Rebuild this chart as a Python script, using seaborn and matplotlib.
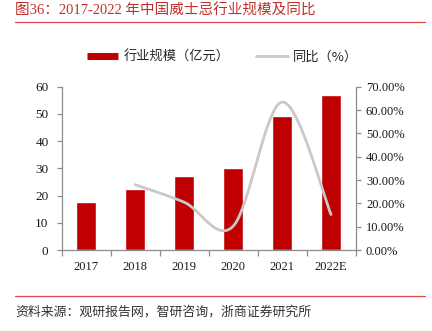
import numpy as np
import pandas as pd
import matplotlib
matplotlib.use("Agg")
import matplotlib.pyplot as plt
from matplotlib.lines import Line2D
import seaborn as sns

years = ["2017", "2018", "2019", "2020", "2021", "2022E"]
scale = [17.6, 22.6, 27.3, 30.1, 49.4, 57.0]
yoy_years = ["2018", "2019", "2020", "2021", "2022E"]
yoy = [28.0, 20.5, 10.2, 63.4, 15.2]
left_ticks = [0, 10, 20, 30, 40, 50, 60]
right_ticks = [0, 10, 20, 30, 40, 50, 60, 70]

sns.set_theme(style="white")
FONTS = ["Liberation Serif", "Noto Sans CJK SC", "DejaVu Sans"]
plt.rcParams["font.family"] = FONTS

BAR = "#C00000"
GRAY_LINE = "#C9C9C9"
SPINE = "#8C8C8C"
TITLE_RED = "#C0302B"
RULE_RED = "#DC4A4A"

fig = plt.figure(figsize=(4.32, 3.31), dpi=100)
ax = fig.add_axes([0.143, 0.2447, 0.680, 0.4933])

df = pd.DataFrame({"year": years, "scale": scale})
sns.barplot(data=df, x="year", y="scale", color=BAR, saturation=1, width=0.4, ax=ax, zorder=2)
ax.set_xlim(-0.5, 5.5)
ax.set_ylim(0, 60)
ax.set_yticks(left_ticks)
ax.set_xlabel("")
ax.set_ylabel("")

ax2 = ax.twinx()
# smoothed line (Catmull-Rom / Bezier like Excel)
xi = np.array([years.index(y) for y in yoy_years], dtype=float)
yi = np.array(yoy, dtype=float)
P = np.column_stack([xi, yi])
Pext = np.vstack([P[0], P, P[-1]])
curve = []
t = np.linspace(0, 1, 60)[:, None]
for i in range(1, len(Pext) - 2):
    p0, p1, p2, p3 = Pext[i - 1], Pext[i], Pext[i + 1], Pext[i + 2]
    c1 = p1 + (p2 - p0) / 6
    c2 = p2 - (p3 - p1) / 6
    seg = (1 - t) ** 3 * p1 + 3 * (1 - t) ** 2 * t * c1 + 3 * (1 - t) * t ** 2 * c2 + t ** 3 * p2
    curve.append(seg)
curve = np.vstack(curve)
sns.lineplot(x=curve[:, 0], y=curve[:, 1], sort=False, color=GRAY_LINE, lw=2.0, ax=ax2, zorder=3)
ax2.set_ylim(0, 70)
ax2.set_yticks(right_ticks)
ax2.set_yticklabels([f"{v:.2f}%" for v in right_ticks])
ax2.set_xlim(-0.5, 5.5)

for a in (ax, ax2):
    for s in a.spines.values():
        s.set_color(SPINE)
        s.set_linewidth(0.9)
    a.spines["top"].set_visible(False)
ax.spines["right"].set_visible(False)
ax2.spines["left"].set_visible(False)
ax2.spines["bottom"].set_visible(False)

ax.tick_params(axis="y", direction="out", length=3.5, width=0.9, color=SPINE, labelsize=9.5, pad=6, left=True)
ax2.tick_params(axis="y", direction="out", length=3.5, width=0.9, color=SPINE, labelsize=9, pad=4, right=True)
ax.set_xticks(range(len(years)))
ax.set_xticklabels(years)
ax.set_xticks(np.arange(-0.5, 6, 1), minor=True)
ax.tick_params(axis="x", which="major", length=0, labelsize=9, pad=8)
ax.tick_params(axis="x", which="minor", direction="out", length=4, width=0.9, color=SPINE, bottom=True)
for lab in ax.get_xticklabels() + ax.get_yticklabels() + ax2.get_yticklabels():
    lab.set_color("#1a1a1a")
ax.grid(False)
ax2.grid(False)

# legend
handles = [Line2D([], [], color=BAR, lw=5, solid_capstyle="butt"),
           Line2D([], [], color=GRAY_LINE, lw=2)]
fig.legend(handles, ["行业规模（亿元）", "同比（%）"], loc="center", bbox_to_anchor=(0.515, 0.828),
           ncol=2, frameon=False, handlelength=2.4, handletextpad=0.4, columnspacing=2.0,
           prop={"family": ["Noto Sans CJK SC"], "size": 9.5})

# title and rules
fig.text(0.035, 0.968, "图36：2017-2022 年中国威士忌行业规模及同比", color=TITLE_RED,
         fontsize=10.5, ha="left", va="center", family=FONTS)
fig.add_artist(Line2D([0.035, 0.984], [0.933, 0.933], color=RULE_RED, lw=0.9))
fig.add_artist(Line2D([0.035, 0.984], [0.105, 0.105], color=RULE_RED, lw=0.9))
fig.text(0.035, 0.058, "资料来源：观研报告网，智研咨询，浙商证券研究所", color="#333333",
         fontsize=9.3, ha="left", va="center", family=["Noto Sans CJK SC"])

fig.savefig("out.png", dpi=100)
